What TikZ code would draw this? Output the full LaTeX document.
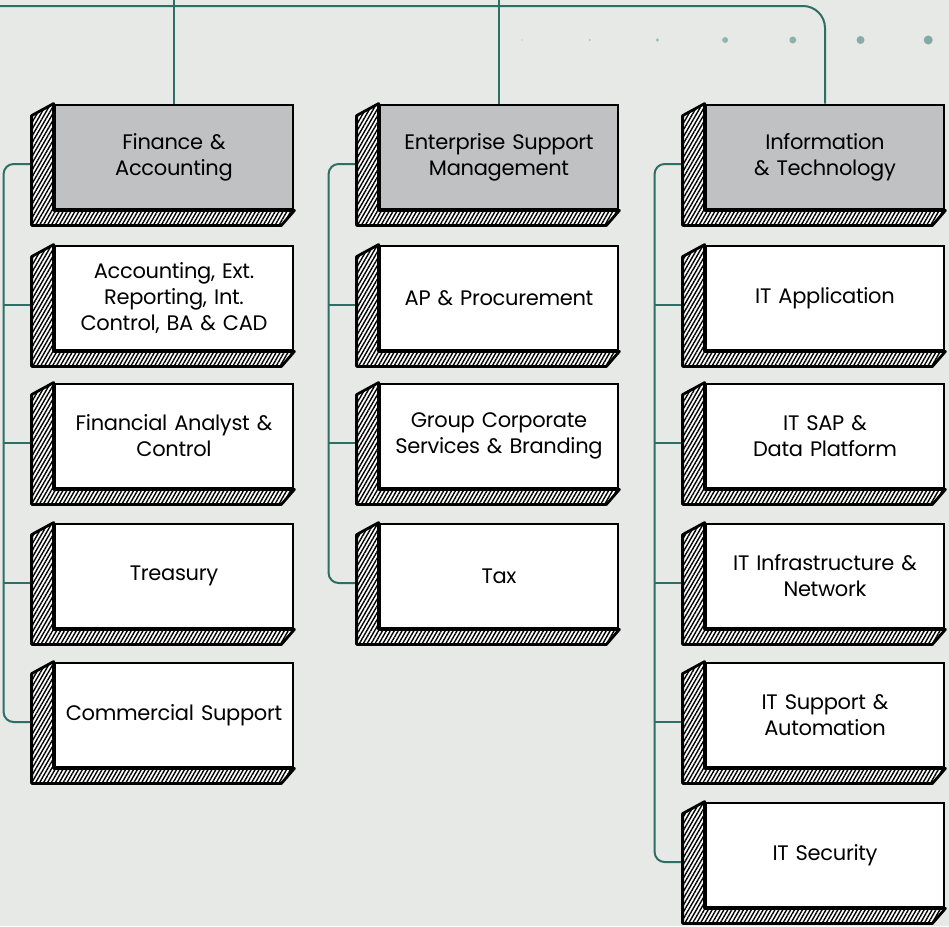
\documentclass[tikz,border=0pt]{standalone}
\usepackage{fontspec}
\setmainfont{Poppins}[WordSpace=0.55, LetterSpace=-1.5]
\usetikzlibrary{calc,patterns.meta}

\definecolor{bgcol}{RGB}{231,233,231}
\definecolor{linkcol}{RGB}{46,110,100}
\definecolor{headcol}{RGB}{192,193,195}
\definecolor{dotcol}{RGB}{110,160,150}

\tikzstyle{box} = [draw, line width=2.8pt, fill=white, minimum width=238pt, minimum height=104pt, inner sep=0pt, align=center, text width=225pt, font=\fontsize{21}{26}\selectfont]
\tikzstyle{head box} = [box, fill=headcol]
\tikzstyle{side} = [draw, line width=2.8pt, line join=round, preaction={fill=white}, pattern={Lines[angle=60,distance=3.4pt,line width=1.4pt]}]
\tikzstyle{link} = [draw, line width=2pt, linkcol, rounded corners=10pt]

\begin{document}
\begin{tikzpicture}[x=1pt,y=-1pt]
	% page and background
	\fill[bgcol] (0,0) rectangle (949,926);
	\useasboundingbox (0,0) rectangle (949,926);
	% row of dots
	\foreach \i/\r/\o in {0/0.8/0.35, 1/1.2/0.5, 2/1.8/0.6, 3/3/0.7, 4/3.5/0.75, 5/4/0.8, 6/4.5/0.85}
		\fill[dotcol, opacity=\o] (522+67.7*\i,40) circle (\r);

	% first column
	\node[head box] (fin) at (174,157) {Finance \&\\Accounting};
	\node[box] (acc) at (174,298) {Accounting, Ext.\\Reporting, Int.\\Control, BA \& CAD};
	\node[box] (fa) at (174,436) {Financial Analyst \&\\Control};
	\node[box] (tre) at (174,576) {Treasury};
	\node[box] (com) at (174,715) {Commercial Support};
	% second column
	\node[head box] (esm) at (499,157) {Enterprise Support\\Management};
	\node[box] (ap) at (499,298) {AP \& Procurement};
	\node[box] (gcs) at (499,436) {Group Corporate\\Services \& Branding};
	\node[box] (tax) at (499,576) {Tax};
	% third column
	\node[head box] (it) at (825,157) {Information\\\& Technology};
	\node[box] (itapp) at (825,298) {IT Application};
	\node[box] (itsap) at (825,436) {IT SAP \&\\Data Platform};
	\node[box] (itinf) at (825,576) {IT Infrastructure \&\\Network};
	\node[box] (itsup) at (825,715) {IT Support \&\\Automation};
	\node[box] (itsec) at (825,855) {IT Security};

	% top line
	\coordinate (origin) at (0,6);
	\draw[link, rounded corners=22pt] (origin) -| (it.north);
	\foreach \n in {fin,esm}
		\draw[link] (\n.north) -- (\n.north |- 0,0);
	% column lines
	\foreach \first/\last in {fin/com, esm/tax, it/itsec}
		\draw[link] ($(\first.west)+(-22,7)$) -| ($(\last.west)+(-50,7)$) -- ($(\last.west)+(-22,7)$);
	\foreach \n in {acc,fa,tre,ap,gcs,itapp,itsap,itinf,itsup}
		\draw[link] ($(\n.west)+(-50,7)$) -- ($(\n.west)+(-22,7)$);

	% hatched sides of the boxes
	\foreach \n in {fin,acc,fa,tre,com,esm,ap,gcs,tax,it,itapp,itsap,itinf,itsup,itsec}
		\path[side] (\n.north west) -- ++(-22,12) |- ($(\n.south east)+(-13,15)$) -- (\n.south east) -- (\n.south west) -- cycle;
\end{tikzpicture}
\end{document}
